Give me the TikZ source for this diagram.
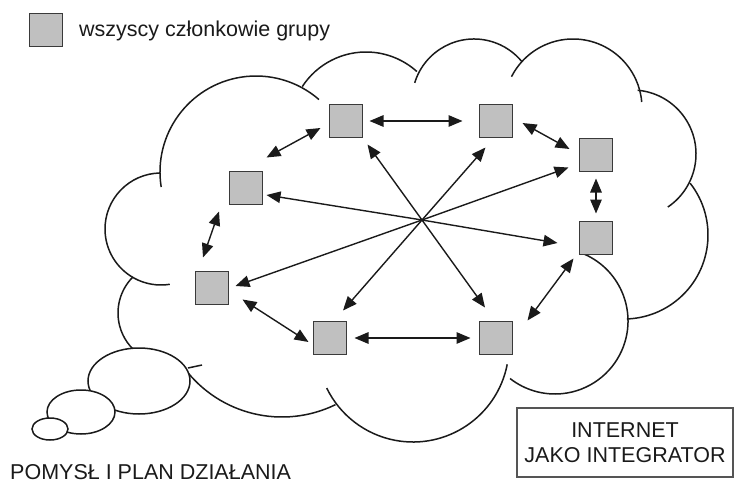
\documentclass[tikz,border=0pt]{standalone}
\usepackage{fontspec}
\setmainfont{Liberation Sans}
\usetikzlibrary{arrows.meta,calc}
\definecolor{ink}{HTML}{1A1A1A}
\definecolor{memberfill}{HTML}{C0C0C0}
\definecolor{memberedge}{HTML}{3A3A3A}
\definecolor{boxedge}{HTML}{555555}
\begin{document}
\begin{tikzpicture}[x=1pt,y=1pt,
  member/.style={draw=memberedge, fill=memberfill, line width=1.8pt,
    minimum size=33pt, inner sep=0pt, outer sep=0pt},
  lobe/.style={draw=ink, line width=1.5pt},
  bubble/.style={draw=ink, fill=white, line width=1.5pt},
  link/.style={draw=ink, line width=1.4pt, -{Triangle[length=14pt,width=11.5pt]}},
  both/.style={link, {Triangle[length=14pt,width=11.5pt]}-{Triangle[length=14pt,width=11.5pt]}},
  caption/.style={font=\fontsize{21.5}{25}\selectfont, text=ink, inner sep=0pt}]

\useasboundingbox (0,0) rectangle (734,483);

% cloud outline: overlapping circular lobes
\draw[lobe] ([shift={(189:96)}]256,311) arc[start angle=189, end angle=49, radius=96];
\draw[lobe] ([shift={(147:76)}]366,355) arc[start angle=147, end angle=48, radius=76];
\draw[lobe] ([shift={(163:62)}]474,382) arc[start angle=163, end angle=39, radius=62];
\draw[lobe] ([shift={(153:69)}]573,375) arc[start angle=153, end angle=5, radius=69];
\draw[lobe] ([shift={(85:64)}]632,329) arc[start angle=85, end angle=-56, radius=64];
\draw[lobe] ([shift={(38:84)}]624,248) arc[start angle=38, end angle=-88, radius=84];
\draw[lobe] ([shift={(66:73)}]555,162) arc[start angle=66, end angle=-128, radius=73];
\draw[lobe] ([shift={(-11:96)}]413,137) arc[start angle=-11, end angle=-154, radius=96];
\draw[lobe] ([shift={(217:122)}]282,188) arc[start angle=217, end angle=296, radius=122];
\draw[lobe] ([shift={(135:51)}]169,170) arc[start angle=135, end angle=235, radius=51];
\draw[lobe] ([shift={(91:56)}]161,254) arc[start angle=91, end angle=279, radius=56];
\draw[lobe] (188,115) -- (202,118);

% thought bubbles
\draw[bubble] (139,102) ellipse[x radius=51, y radius=33];
\draw[bubble] (81,71) ellipse[x radius=34, y radius=22];
\draw[bubble] (50,54) ellipse[x radius=18, y radius=11];

% legend
\node[member] (key) at (46,453) {};
\node[caption, anchor=base west] (keytext) at (79,446) {wszyscy członkowie grupy};

% group members
\node[member] (A) at (346,362) {};
\node[member] (B) at (496,362) {};
\node[member] (C) at (596,328) {};
\node[member] (D) at (596,245) {};
\node[member] (E) at (246,295) {};
\node[member] (F) at (212,195) {};
\node[member] (G) at (330,145) {};
\node[member] (H) at (496,145) {};
\coordinate (hub) at (422,263);

% links from the hub
\draw[link] (hub) -- ([shift={(5,-7)}]A.south east);
\draw[link] (hub) -- ([shift={(6,-10)}]B.south west);
\draw[link] (hub) -- ([shift={(-11,4)}]C.south west);
\draw[link] (hub) -- ([shift={(-22,-5)}]D.west);
\draw[link] (hub) -- ([shift={(4,-7)}]E.east);
\draw[link] (hub) -- ([shift={(7,2)}]F.east);
\draw[link] (hub) -- ([shift={(13,11)}]G.north);
\draw[link] (hub) -- ([shift={(-11,14)}]H.north);

% links around the ring
\draw[both] ([shift={(7,0)}]A.east) -- ([shift={(-17,0)}]B.west);
\draw[both] ([shift={(10,-2)}]B.east) -- ([shift={(-10,6)}]C.west);
\draw[both] ([shift={(0,-7)}]C.south) -- ([shift={(0,8)}]D.north);
\draw[both] ([shift={(-6,-4)}]D.south west) -- ([shift={(15,1)}]H.north east);
\draw[both] ([shift={(-9,0)}]H.west) -- ([shift={(8,0)}]G.east);
\draw[both] ([shift={(-5,-4)}]G.west) -- ([shift={(14,5)}]F.south east);
\draw[both] ([shift={(-9,14)}]F.north) -- ([shift={(-27,-7)}]E.south);
\draw[both] ([shift={(4,14)}]E.north east) -- ([shift={(-9,-7)}]A.west);

% captions
\node[caption, draw=boxedge, line width=1.5pt, minimum width=216pt, minimum height=69pt,
  align=center] (net) at (625,40.5) {INTERNET\\JAKO INTEGRATOR};
\node[caption, anchor=base west] (idea) at (10,4) {POMYSŁ I PLAN DZIAŁANIA};
\end{tikzpicture}
\end{document}
